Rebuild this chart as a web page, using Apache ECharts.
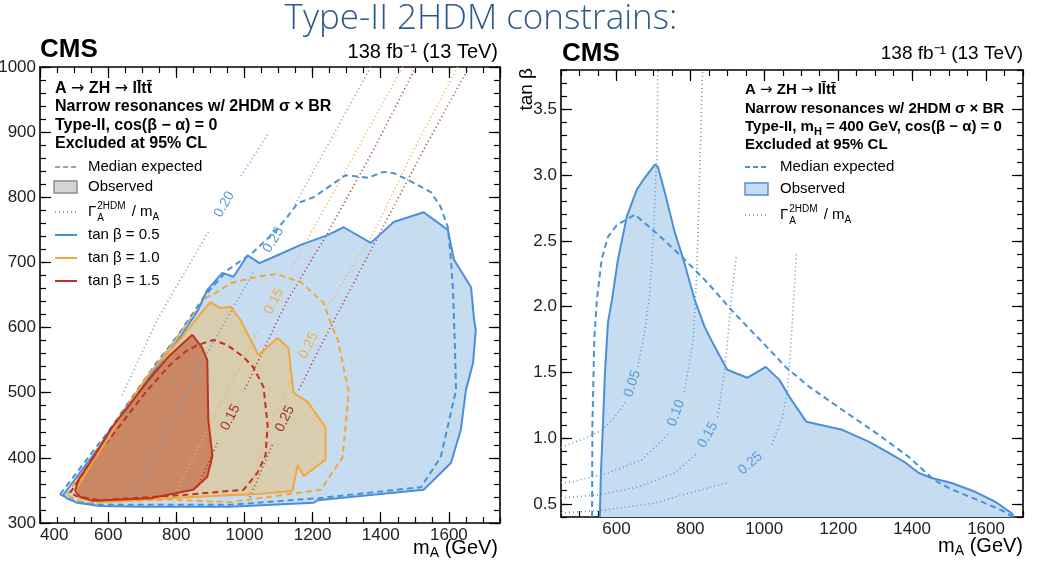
<!doctype html>
<html>
<head>
<meta charset="utf-8">
<title>Type-II 2HDM constrains</title>
<script src="https://cdn.jsdelivr.net/npm/echarts@6/dist/echarts.min.js"></script>
<style>
html, body { margin: 0; padding: 0; background: #fff; }
#chart { width: 1038px; height: 570px; }
</style>
</head>
<body>
<div id="chart"></div>
<script>
// ---------- left panel: mA vs mH (GeV) ----------
// observed / expected exclusion contours, one per tan(beta)
var obsTan05 = [[468,343],[538,392],[606,438],[694,504],[744,540],[812,586],[862,625],[891,658],[935,684],[968,678],[1009,711],[1044,699],[1097,711],[1165,727],[1244,742],[1291,754],[1371,730],[1438,762],[1526,777],[1597,750],[1615,704],[1665,662],[1674,612],[1679,596],[1671,546],[1650,504],[1635,443],[1606,392],[1526,351],[1215,335],[1203,331],[959,325],[700,325],[576,326],[509,331],[479,338]];
var expTan05 = [[459,344],[532,394],[600,440],[685,504],[738,543],[806,589],[885,650],[950,688],[1026,716],[1085,745],[1126,770],[1156,791],[1203,800],[1297,834],[1362,830],[1409,839],[1438,837],[1479,827],[1547,808],[1576,785],[1597,754],[1606,704],[1612,658],[1618,566],[1621,504],[1576,401],[1518,355],[1215,338],[959,328],[576,328],[494,335]];
var obsTan10 = [[505,351],[545,386],[592,423],[650,473],[708,520],[730,535],[815,584],[865,617],[900,639],[929,630],[959,632],[988,612],[1041,558],[1097,584],[1129,569],[1144,500],[1185,486],[1238,447],[1238,397],[1174,372],[1156,389],[1141,349],[1047,345],[774,338],[576,332],[518,338]];
var expTan10 = [[479,343],[518,374],[576,420],[650,476],[724,530],[812,592],[885,645],[921,655],[959,668],[997,673],[1047,679],[1097,682],[1165,670],[1232,638],[1253,607],[1274,581],[1306,501],[1288,401],[1224,351],[959,332],[774,336],[526,331],[488,341]];
var obsTan15 = [[503,349],[512,366],[556,400],[606,443],[644,469],[703,509],[724,523],[782,558],[847,589],[876,569],[891,550],[894,458],[906,403],[891,371],[850,351],[724,338],[556,334],[518,340]];
var expTan15 = [[488,346],[518,369],[562,401],[635,450],[709,500],[782,543],[826,563],[862,573],[909,581],[950,573],[997,555],[1026,539],[1056,509],[1068,450],[1062,404],[1038,377],[997,351],[821,343],[576,335],[509,341]];
// Gamma_A / mA iso-lines (null = gap where the value is written)
var widthTan05_020 = [[1068,896],[988,831],null,[894,747],[744,612],[640,495]];
var widthTan05_025 = [[1371,1000],[1144,785],null,[1026,684],[997,658],[879,550],[671,338]];
var widthTan10_015 = [[1465,1000],[1135,688],null,[1038,593],[791,340]];
var widthTan10_025 = [[1626,1000],[1497,873],[1379,745],[1236,625],null,[1141,520],[1076,453],[1009,340]];
var widthTan15_015 = [[1503,1000],[1379,873],[1244,745],[1126,642],[1056,566],[997,501],null,[921,423],[862,355]];
var widthTan15_025 = [[1659,1000],[1526,873],[1371,719],[1218,566],[1156,500],null,[1082,420],[1012,335]];

// ---------- right panel: mA vs tan(beta), mH = 400 GeV ----------
var obsMH400 = [[555,0.4],[558,0.735],[563,1.063],[569,1.497],[577,1.878],[588,2.053],[604,2.357],[628,2.685],[655,2.89],[677,2.982],[704,3.081],[712,3.066],[731,2.868],[758,2.563],[779,2.38],[812,2.05],[838,1.85],[865,1.70],[900,1.52],[954,1.459],[1004,1.542],[1041,1.443],[1068,1.314],[1114,1.124],[1211,1.063],[1284,0.971],[1337,0.887],[1383,0.811],[1418,0.735],[1453,0.697],[1507,0.659],[1572,0.59],[1626,0.514],[1669,0.43],[1675,0.4]];
var expMH400 = [[534,0.4],[535,1.1],[540,1.75],[547,2.05],[560,2.36],[577,2.53],[601,2.62],[650,2.70],[704,2.57],[777,2.38],[847,2.18],[919,1.95],[1015,1.67],[1060,1.535],[1122,1.39],[1211,1.215],[1302,1.04],[1391,0.857],[1460,0.68],[1507,0.61],[1585,0.52],[1655,0.435],[1670,0.4]];
var widthMH400_005 = [[450,0.93],[507,0.99],[561,1.06],[596,1.16],[628,1.29],null,[658,1.54],[677,1.82],[690,2.1],[700,2.55],[710,3.2],[712,3.8]];
var widthMH400_010 = [[450,0.66],[480,0.667],[577,0.735],[668,0.834],[740,1.03],null,[783,1.35],[793,1.50],[808,1.75],[818,2.3],[824,2.9],[833,3.8]];
var widthMH400_015 = [[450,0.545],[550,0.568],[658,0.628],[757,0.735],[820,0.887],null,[874,1.16],[892,1.50],[901,1.75],[910,2.05],[925,2.40]];
var widthMH400_025 = [[450,0.43],[569,0.453],[704,0.507],[820,0.60],[905,0.665],null,[1020,0.95],[1048,1.15],[1062,1.34],[1072,1.7],[1081,2.13],[1087,2.40]];

// tick labels of the right panel
var massTicksRight = [600, 800, 1000, 1200, 1400, 1600];
var tanBetaTicks = [0.5, 1.0, 1.5, 2.0, 2.5, 3.0, 3.5];

var FONT = '"Liberation Sans", Arial, Helvetica, sans-serif';
var BLUE = '#4a90d9', BLUE_FILL = '#c6dcf1', BLUE_DOT = '#5b9bd8';
var ORANGE = '#f4a636', ORANGE_FILL = '#d9cdb0', ORANGE_DOT = '#f3b044';
var RED = '#c0321c', RED_FILL = '#c98766', RED_DOT = '#a3312f';

var chart = echarts.init(document.getElementById('chart'));

var ctx = document.createElement('canvas').getContext('2d');
function textWidth(s, font) {
	ctx.font = font;
	return ctx.measureText(s).width;
}

function txt(x, y, s, font, color, align) {
	return {
		type: 'text', x: x, y: y, silent: true,
		style: { text: s, font: font, fill: color || '#000', align: align || 'left', verticalAlign: 'middle' }
	};
}

// a row of text pieces, e.g. subscripts: [text, font, dy]
function run(x, y, segs, align, color) {
	var total = 0;
	segs.forEach(function(s) { total += textWidth(s[0], s[1]); });
	var cx = align === 'right' ? x - total : x;
	var out = [];
	segs.forEach(function(s) {
		out.push(txt(cx, y + (s[2] || 0), s[0], s[1], color));
		cx += textWidth(s[0], s[1]);
	});
	return out;
}

function gammaText(x, y, color) {
	var f = '15px ' + FONT, fs = '10px ' + FONT;
	var x1 = x + textWidth('Γ', f) + 1;
	var x2 = x1 + textWidth('2HDM', fs) + 2;
	var x3 = x2 + textWidth(' / m', f);
	return [
		txt(x, y, 'Γ', f, color),
		txt(x1, y - 6, '2HDM', fs, color),
		txt(x1, y + 6, 'A', fs, color),
		txt(x2, y, ' / m', f, color),
		txt(x3, y + 5, 'A', fs, color)
	];
}

function decay(x, y, size) {
	var f = 'bold ' + size + 'px ' + FONT, fa = size + 'px "DejaVu Sans", sans-serif';
	return run(x, y, [['A ', f], ['→', fa], [' ZH ', f], ['→', fa], [' ll\u0304tt\u0304', f]]);
}

function plain(v) { return String(v); }

function makeAxis(grid, pos, min, max, ticks, len, label, line) {
	var a = {
		type: 'value', gridIndex: grid, position: pos, min: min, max: max,
		splitLine: { show: false },
		axisLine: { show: !!line, onZero: false, lineStyle: { color: '#000', width: 1.6 } },
		axisTick: { show: true, inside: true, length: len, lineStyle: { color: '#000', width: 1.2 } },
		axisLabel: { show: false }
	};
	if (ticks.interval) {
		a.interval = ticks.interval;
	} else {
		a.interval = ticks.step;
		a.axisTick.customValues = ticks.values;
	}
	if (label) {
		a.axisLabel = Object.assign({ show: true, color: '#222', fontFamily: FONT, fontSize: 17, margin: 4, formatter: plain }, label);
		if (ticks.values) a.axisLabel.customValues = ticks.values;
	}
	return a;
}

function area(pts, fill, grid) {
	return {
		type: 'custom', xAxisIndex: grid * 4, yAxisIndex: grid * 4, silent: true, data: pts,
		renderItem: function(params, api) {
			if (params.dataIndex !== 0) return;
			return {
				type: 'polygon',
				shape: { points: pts.map(function(p) { return api.coord(p); }) },
				style: { fill: fill }
			};
		}
	};
}

function curve(pts, color, kind, grid, closed) {
	var d = pts.map(function(p) { return p === null ? ['-', '-'] : p; });
	if (closed) d = d.concat([pts[0]]);
	var ls = { color: color, width: kind === 'dot' ? 1.6 : 2 };
	if (kind === 'dash') ls.type = [6, 4];
	if (kind === 'dot') ls.type = [1, 3];
	return {
		type: 'line', xAxisIndex: grid * 4, yAxisIndex: grid * 4, data: d,
		symbol: 'none', silent: true, connectNulls: false, lineStyle: ls
	};
}

// value written in the gap of an iso-width line, turned along the line
function gapLabel(line, label, color, grid) {
	var k = line.indexOf(null), a = line[k - 1], b = line[k + 1];
	return {
		type: 'custom', xAxisIndex: grid * 4, yAxisIndex: grid * 4, silent: true,
		data: [[a[0], a[1], b[0], b[1]]], encode: { x: [0, 2], y: [1, 3] },
		renderItem: function(params, api) {
			var p = api.coord([api.value(0), api.value(1)]);
			var q = api.coord([api.value(2), api.value(3)]);
			var l = p[0] < q[0] ? p : q, r = p[0] < q[0] ? q : p;
			return {
				type: 'text', x: (p[0] + q[0]) / 2, y: (p[1] + q[1]) / 2,
				rotation: -Math.atan2(r[1] - l[1], r[0] - l[0]),
				style: { text: label, fill: color, font: '14px ' + FONT, align: 'center', verticalAlign: 'middle' }
			};
		}
	};
}

var B16 = 'bold 16px ' + FONT, B15 = 'bold 15px ' + FONT, N15 = '15px ' + FONT;
var graphics = [
	txt(481, 19, 'Type-II 2HDM constrains:', '300 35px "Open Sans", Lato, sans-serif', '#2d5a8e', 'center'),
	txt(40, 50, 'CMS', 'bold 26px ' + FONT),
	txt(498, 52, '138 fb⁻¹ (13 TeV)', '20px ' + FONT, '#000', 'right'),
	txt(562, 54, 'CMS', 'bold 26px ' + FONT),
	txt(1023, 54, '138 fb⁻¹ (13 TeV)', '19px ' + FONT, '#000', 'right'),
	{ type: 'text', x: 527, y: 68, rotation: Math.PI / 2, silent: true,
		style: { text: 'tan β', font: '19px ' + FONT, fill: '#000', align: 'right', verticalAlign: 'middle' } },
	// left legend
	txt(55, 107, 'Narrow resonances w/ 2HDM σ × BR', B16),
	txt(55, 126, 'Type-II, cos(β − α) = 0', B16),
	txt(55, 144, 'Excluded at 95% CL', B16),
	{ type: 'line', silent: true, shape: { x1: 55, y1: 167, x2: 77, y2: 167 }, style: { stroke: '#7f7f7f', lineWidth: 1.6, lineDash: [5, 3] } },
	txt(88, 167, 'Median expected', N15),
	{ type: 'rect', silent: true, shape: { x: 54, y: 181, width: 23, height: 12 }, style: { fill: '#d4d4d4', stroke: '#8a8a8a', lineWidth: 1.4 } },
	txt(88, 187, 'Observed', N15),
	{ type: 'line', silent: true, shape: { x1: 55, y1: 212, x2: 77, y2: 212 }, style: { stroke: '#7f7f7f', lineWidth: 1.4, lineDash: [1, 3] } },
	{ type: 'line', silent: true, shape: { x1: 55, y1: 235, x2: 77, y2: 235 }, style: { stroke: BLUE, lineWidth: 2 } },
	txt(88, 235, 'tan β = 0.5', N15),
	{ type: 'line', silent: true, shape: { x1: 55, y1: 258, x2: 77, y2: 258 }, style: { stroke: ORANGE, lineWidth: 2 } },
	txt(88, 258, 'tan β = 1.0', N15),
	{ type: 'line', silent: true, shape: { x1: 55, y1: 281, x2: 77, y2: 281 }, style: { stroke: RED, lineWidth: 2 } },
	txt(88, 281, 'tan β = 1.5', N15),
	// right legend
	txt(745, 109, 'Narrow resonances w/ 2HDM σ × BR', B15),
	txt(745, 145, 'Excluded at 95% CL', B15),
	{ type: 'line', silent: true, shape: { x1: 745, y1: 167, x2: 768, y2: 167 }, style: { stroke: BLUE, lineWidth: 1.8, lineDash: [5, 3] } },
	txt(780, 167, 'Median expected', N15),
	{ type: 'rect', silent: true, shape: { x: 745, y: 183, width: 23, height: 12 }, style: { fill: BLUE_FILL, stroke: BLUE, lineWidth: 1.4 } },
	txt(780, 189, 'Observed', N15),
	{ type: 'line', silent: true, shape: { x1: 745, y1: 215, x2: 768, y2: 215 }, style: { stroke: BLUE_DOT, lineWidth: 1.4, lineDash: [1, 3] } }
];
graphics = graphics
	.concat(decay(55, 89, 16))
	.concat(decay(745, 90, 15))
	.concat(gammaText(88, 212, '#000'))
	.concat(gammaText(780, 215, '#000'))
	.concat(run(745, 127, [['Type-II, m', B15], ['H', 'bold 11px ' + FONT, 5], [' = 400 GeV, cos(β − α) = 0', B15]]))
	.concat(run(498, 548, [['m', '20px ' + FONT], ['A', '14px ' + FONT, 5], [' (GeV)', '20px ' + FONT]], 'right'))
	.concat(run(1023, 546, [['m', '20px ' + FONT], ['A', '14px ' + FONT, 5], [' (GeV)', '20px ' + FONT]], 'right'));

chart.setOption({
	animation: false,
	grid: [
		{ left: 40, top: 67, width: 460, height: 456, containLabel: false, outerBoundsMode: 'none' },
		{ left: 561, top: 70, width: 462, height: 447, containLabel: false, outerBoundsMode: 'none' }
	],
	xAxis: [
		makeAxis(0, 'bottom', 400, 1750, { interval: 200 }, 11, { alignMinLabel: 'left', showMaxLabel: false }, true),
		makeAxis(0, 'bottom', 400, 1750, { interval: 50 }, 6),
		makeAxis(0, 'top', 400, 1750, { interval: 200 }, 11, null, true),
		makeAxis(0, 'top', 400, 1750, { interval: 50 }, 6),
		makeAxis(1, 'bottom', 450, 1700, { step: 50, values: massTicksRight }, 11, {}, true),
		makeAxis(1, 'bottom', 450, 1700, { interval: 50 }, 6),
		makeAxis(1, 'top', 450, 1700, { step: 50, values: massTicksRight }, 11, null, true),
		makeAxis(1, 'top', 450, 1700, { interval: 50 }, 6)
	],
	yAxis: [
		makeAxis(0, 'left', 300, 1000, { interval: 100 }, 11, {}, true),
		makeAxis(0, 'left', 300, 1000, { interval: 20 }, 6),
		makeAxis(0, 'right', 300, 1000, { interval: 100 }, 11, null, true),
		makeAxis(0, 'right', 300, 1000, { interval: 20 }, 6),
		makeAxis(1, 'left', 0.4, 3.8, { step: 0.1, values: tanBetaTicks }, 11, { formatter: function(v) { return v.toFixed(1); } }, true),
		makeAxis(1, 'left', 0.4, 3.8, { interval: 0.1 }, 6),
		makeAxis(1, 'right', 0.4, 3.8, { step: 0.1, values: tanBetaTicks }, 11, null, true),
		makeAxis(1, 'right', 0.4, 3.8, { interval: 0.1 }, 6)
	],
	graphic: graphics,
	series: [
		area(obsTan05, BLUE_FILL, 0),
		area(obsTan10, ORANGE_FILL, 0),
		area(obsTan15, RED_FILL, 0),
		curve(widthTan05_020, BLUE_DOT, 'dot', 0),
		curve(widthTan05_025, BLUE_DOT, 'dot', 0),
		curve(widthTan10_015, ORANGE_DOT, 'dot', 0),
		curve(widthTan10_025, ORANGE_DOT, 'dot', 0),
		curve(widthTan15_015, RED_DOT, 'dot', 0),
		curve(widthTan15_025, RED_DOT, 'dot', 0),
		curve(expTan05, BLUE, 'dash', 0, true),
		curve(expTan10, ORANGE, 'dash', 0, true),
		curve(expTan15, RED, 'dash', 0, true),
		curve(obsTan05, BLUE, 'solid', 0, true),
		curve(obsTan10, ORANGE, 'solid', 0, true),
		curve(obsTan15, RED, 'solid', 0, true),
		gapLabel(widthTan05_020, '0.20', BLUE_DOT, 0),
		gapLabel(widthTan05_025, '0.25', BLUE_DOT, 0),
		gapLabel(widthTan10_015, '0.15', ORANGE_DOT, 0),
		gapLabel(widthTan10_025, '0.25', ORANGE_DOT, 0),
		gapLabel(widthTan15_015, '0.15', RED_DOT, 0),
		gapLabel(widthTan15_025, '0.25', RED_DOT, 0),

		area(obsMH400, BLUE_FILL, 1),
		curve(widthMH400_005, BLUE_DOT, 'dot', 1),
		curve(widthMH400_010, BLUE_DOT, 'dot', 1),
		curve(widthMH400_015, BLUE_DOT, 'dot', 1),
		curve(widthMH400_025, BLUE_DOT, 'dot', 1),
		curve(expMH400, BLUE, 'dash', 1),
		curve(obsMH400, BLUE, 'solid', 1),
		gapLabel(widthMH400_005, '0.05', BLUE_DOT, 1),
		gapLabel(widthMH400_010, '0.10', BLUE_DOT, 1),
		gapLabel(widthMH400_015, '0.15', BLUE_DOT, 1),
		gapLabel(widthMH400_025, '0.25', BLUE_DOT, 1)
	]
});
</script>
</body>
</html>
